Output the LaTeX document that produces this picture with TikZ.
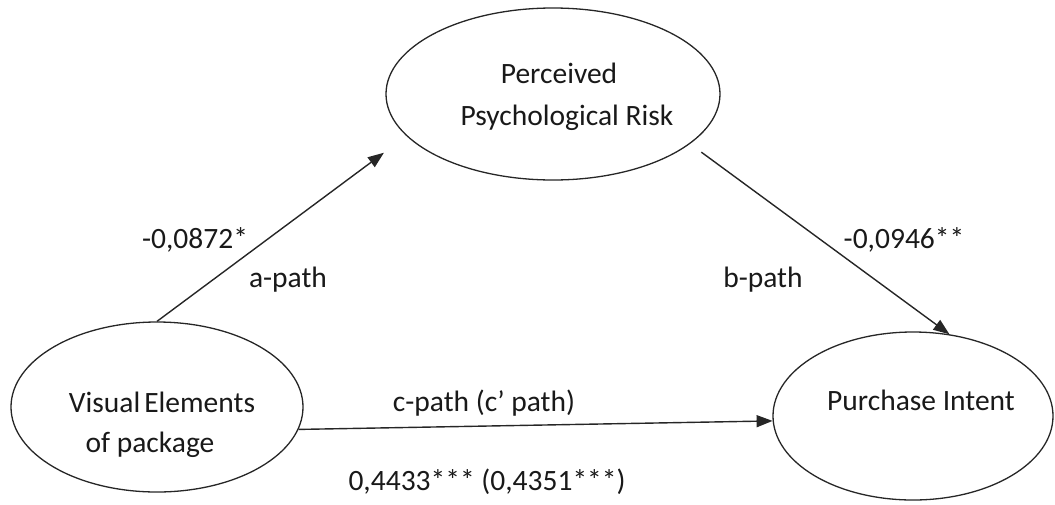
\documentclass[tikz,border=0pt]{standalone}
\usepackage{fontspec}
\setmainfont{Carlito}
\usetikzlibrary{arrows.meta,shapes.geometric}
\begin{document}
\begin{tikzpicture}[x=1pt,y=-1pt,
  oval/.style={ellipse,draw=black!85,line width=1.3pt,inner sep=0pt},
  lbl/.style={inner sep=0pt,anchor=base,text=black!90,font=\fontsize{29.5}{36}\selectfont},
  arr/.style={-{Triangle[length=16pt,width=12pt]},line width=1.4pt,draw=black!85}]
\useasboundingbox (0,0) rectangle (1055,504);

% constructs
\node[oval,minimum width=334pt,minimum height=172pt] (risk) at (553,94) {};
\node[oval,minimum width=292pt,minimum height=170pt] (visual) at (157,407) {};
\node[oval,minimum width=280pt,minimum height=168pt] (intent) at (913,416) {};

% construct names
\node[lbl] (riskA) at (559,83) {Perceived};
\node[lbl] (riskB) at (567,125) {Psychological Risk};
\node[lbl] (visualA) at (162,412) {Visual\hspace{4pt}Elements};
\node[lbl] (visualB) at (150,452) {of package};
\node[lbl] (intentA) at (921,410) {Purchase Intent};

% paths
\draw[arr, shorten >=28pt] (visual.north) -- (risk.196);
\draw[arr, shorten <=14pt] (risk.-20) -- (intent.66);
\draw[arr] (visual.-9) -- (intent.182);

% coefficients and path names
\node[lbl] (aCoef) at (195,248) {-0,0872*};
\node[lbl] (aName) at (288,287) {a-path};
\node[lbl] (bCoef) at (904,248) {-0,0946**};
\node[lbl] (bName) at (763,287) {b-path};
\node[lbl] (cName) at (484,411) {c-path (c’ path)};
\node[lbl] (cCoef) at (487,490) {0,4433*** (0,4351***)};
\end{tikzpicture}
\end{document}
